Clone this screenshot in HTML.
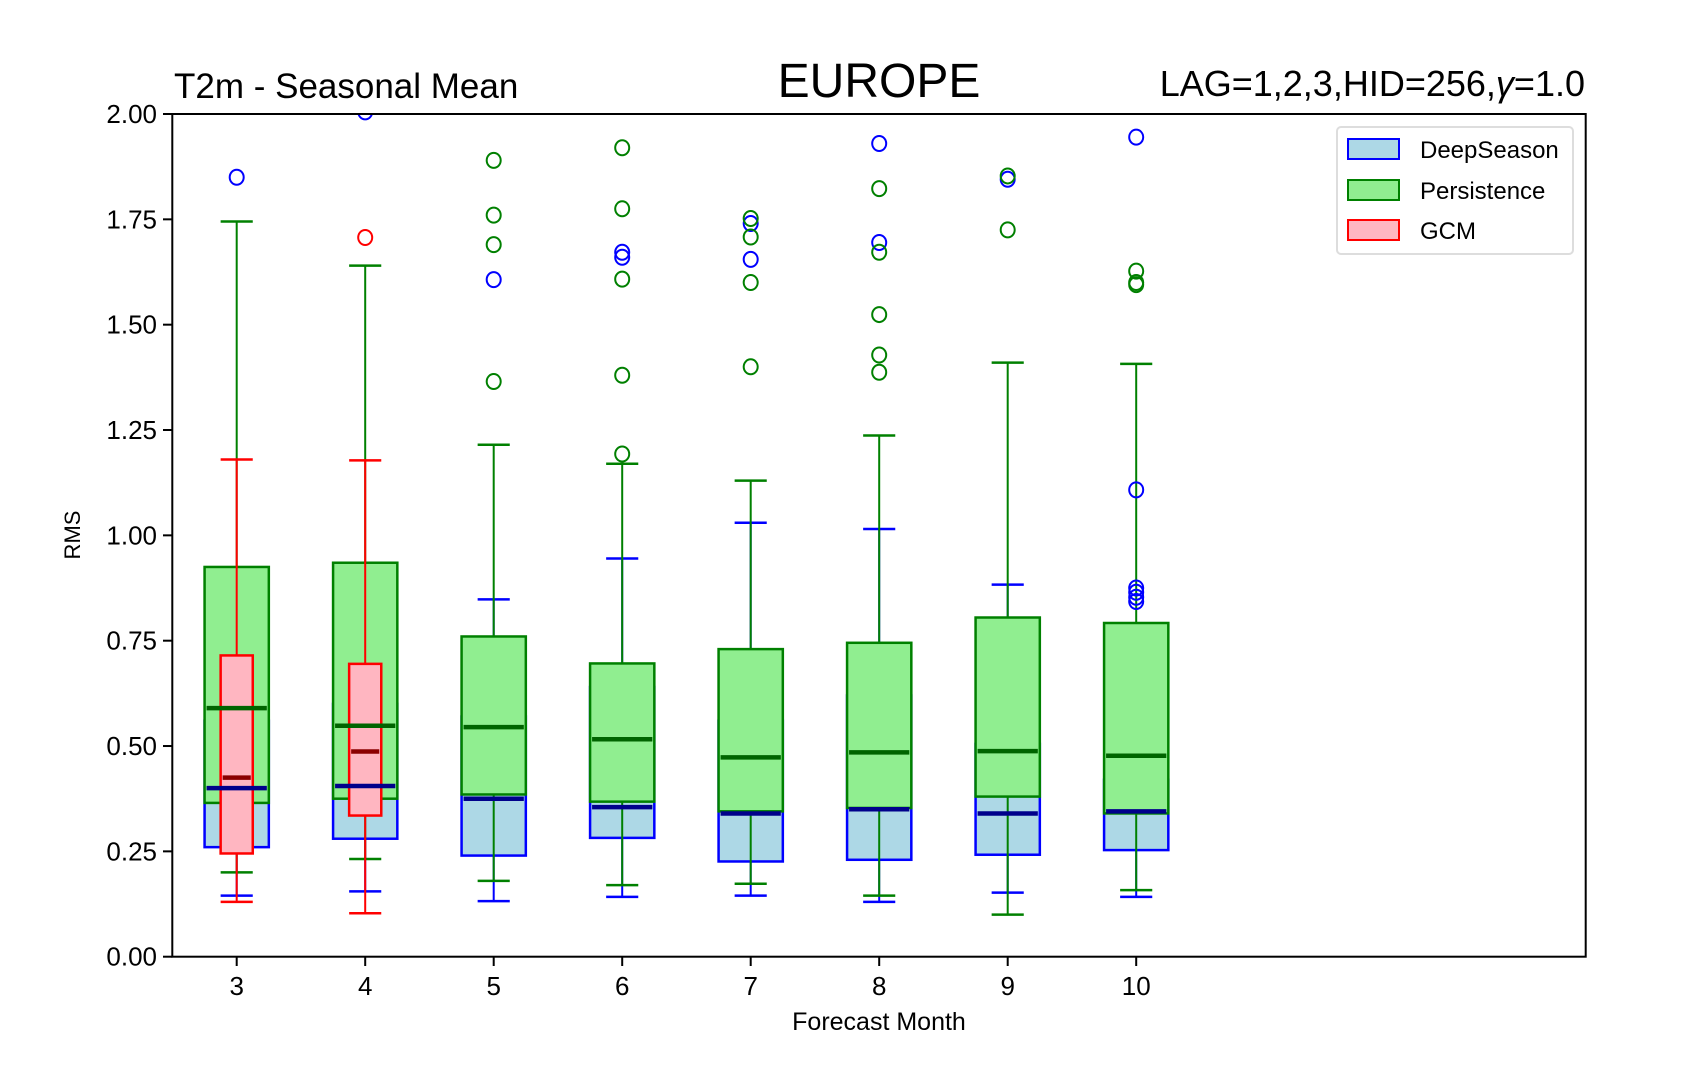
<!DOCTYPE html>
<html><head><meta charset="utf-8"><style>
body{margin:0;background:#fff}
svg text{font-family:"Liberation Sans",sans-serif;fill:#000}
</style></head><body>
<svg id="chart" width="1689" height="1075" xmlns="http://www.w3.org/2000/svg">
<defs><clipPath id="clip"><rect x="172.3" y="114" width="1413.4" height="842.7"/></clipPath></defs>
<text x="174" y="98" font-size="35">T2m - Seasonal Mean</text>
<text x="879" y="97" font-size="48" text-anchor="middle">EUROPE</text>
<text x="1585" y="96" font-size="36" text-anchor="end">LAG=1,2,3,HID=256,<tspan font-style="italic">γ</tspan>=1.0</text>
<g id="plot" clip-path="url(#clip)"></g>
<rect x="172.3" y="114" width="1413.4" height="842.7" fill="none" stroke="#000" stroke-width="2"/>
<g id="axes"></g>
<text x="879" y="1030" font-size="25" text-anchor="middle">Forecast Month</text>
<text transform="translate(80,535) rotate(-90)" font-size="22" text-anchor="middle">RMS</text>
<g>
<rect x="1337" y="127" width="236" height="127" rx="4" fill="#fff" stroke="#ddd" stroke-width="2"/>
<g><rect x="1348" y="139" width="51" height="20" fill="#add8e6" stroke="#0000ff" stroke-width="2"/><text x="1420" y="158" font-size="24">DeepSeason</text></g>
<g><rect x="1348" y="180" width="51" height="20" fill="#90ee90" stroke="#008000" stroke-width="2"/><text x="1420" y="199" font-size="24">Persistence</text></g>
<g><rect x="1348" y="220" width="51" height="20" fill="#ffb6c1" stroke="#ff0000" stroke-width="2"/><text x="1420" y="239" font-size="24">GCM</text></g>
</g>
</svg>
<script>
const months=[3,4,5,6,7,8,9,10];
const yTicks=[0,0.25,0.5,0.75,1.0,1.25,1.5,1.75,2.0];
const yTickLabels=["0.00","0.25","0.50","0.75","1.00","1.25","1.50","1.75","2.00"];
// [whiskerLo, q1, median, q3, whiskerHi]
const deepStats=[[0.145,0.26,0.40,0.56,0.9],[0.155,0.28,0.405,0.6,0.9],[0.132,0.24,0.375,0.57,0.848],[0.142,0.282,0.355,0.64,0.945],[0.145,0.226,0.34,0.56,1.03],[0.13,0.23,0.35,0.62,1.015],[0.152,0.242,0.34,0.505,0.883],[0.142,0.253,0.345,0.42,0.77]];
const deepFliers=[[1.85],[2.005],[1.607],[1.66,1.672],[1.655,1.74],[1.695,1.93],[1.845],[0.843,0.853,0.865,0.875,1.108,1.945]];
const persStats=[[0.20,0.365,0.59,0.925,1.745],[0.232,0.375,0.548,0.935,1.64],[0.18,0.385,0.545,0.76,1.215],[0.17,0.368,0.516,0.696,1.17],[0.173,0.345,0.473,0.73,1.13],[0.145,0.353,0.485,0.745,1.237],[0.10,0.38,0.488,0.805,1.41],[0.158,0.34,0.477,0.792,1.407]];
const persFliers=[[],[],[1.365,1.69,1.76,1.89],[1.193,1.38,1.608,1.775,1.92],[1.40,1.60,1.708,1.752],[1.387,1.428,1.524,1.672,1.823],[1.725,1.853],[1.595,1.60,1.627]];
const gcmMonths=[3,4];
const gcmStats=[[0.13,0.245,0.425,0.715,1.18],[0.103,0.335,0.487,0.695,1.178]];
const gcmFliers=[[],[1.707]];

const NS="http://www.w3.org/2000/svg";
const X=v=>236.7+(v-3)*128.5;
const Y=v=>956.7-v*421.35;
const plot=document.getElementById('plot'),axes=document.getElementById('axes');
function mk(p,tag,a){const e=document.createElementNS(NS,tag);for(const k in a)e.setAttribute(k,a[k]);p.appendChild(e);return e;}
const series=[
 {name:'deepseason',ms:months,st:deepStats,fl:deepFliers,w:0.5,fill:'#add8e6',c:'#0000ff',med:'#00008b'},
 {name:'persistence',ms:months,st:persStats,fl:persFliers,w:0.5,fill:'#90ee90',c:'#008000',med:'#006400'},
 {name:'gcm',ms:gcmMonths,st:gcmStats,fl:gcmFliers,w:0.25,fill:'#ffb6c1',c:'#ff0000',med:'#8b0000'}];
series.forEach(s=>{s.ms.forEach((m,i)=>{
 const st=s.st[i],cx=X(m),hw=s.w*128.5/2,cw=0.125*128.5;
 const g=mk(plot,'g',{});
 
 
 mk(g,'line',{x1:cx,x2:cx,y1:Y(st[0]),y2:Y(st[1]),stroke:s.c,'stroke-width':2});
 mk(g,'line',{x1:cx,x2:cx,y1:Y(st[3]),y2:Y(st[4]),stroke:s.c,'stroke-width':2});
 mk(g,'line',{x1:cx-cw,x2:cx+cw,y1:Y(st[0]),y2:Y(st[0]),stroke:s.c,'stroke-width':2.5});
 mk(g,'line',{x1:cx-cw,x2:cx+cw,y1:Y(st[4]),y2:Y(st[4]),stroke:s.c,'stroke-width':2.5});
 mk(g,'rect',{x:cx-hw,y:Y(st[3]),width:2*hw,height:Y(st[1])-Y(st[3]),fill:s.fill,stroke:s.c,'stroke-width':2.5});
});});
series.forEach(s=>{s.ms.forEach((m,i)=>{
 const st=s.st[i],cx=X(m),hw=s.w*128.5/2;
 const l=mk(plot,'line',{x1:cx-hw+2,x2:cx+hw-2,y1:Y(st[2]),y2:Y(st[2]),stroke:s.med,'stroke-width':4.5});
 
 
});});
series.forEach(s=>{s.ms.forEach((m,i)=>{s.fl[i].forEach(v=>{
 const c=mk(plot,'ellipse',{cx:X(m),cy:Y(v),rx:7,ry:7.5,fill:'none',stroke:s.c,'stroke-width':2});
 
 
});});});
yTicks.forEach((v,i)=>{
 mk(axes,'line',{x1:163,x2:172.3,y1:Y(v),y2:Y(v),stroke:'#000','stroke-width':2});
 const t=mk(axes,'text',{x:157,y:Y(v)+9,'font-size':26,'text-anchor':'end'});
 t.textContent=yTickLabels[i];
 
 
});
months.forEach(m=>{
 mk(axes,'line',{x1:X(m),x2:X(m),y1:956.7,y2:966,stroke:'#000','stroke-width':2});
 const t=mk(axes,'text',{x:X(m),y:995,'font-size':26,'text-anchor':'middle'});
 t.textContent=m;
 
 
});
</script>
</body></html>
